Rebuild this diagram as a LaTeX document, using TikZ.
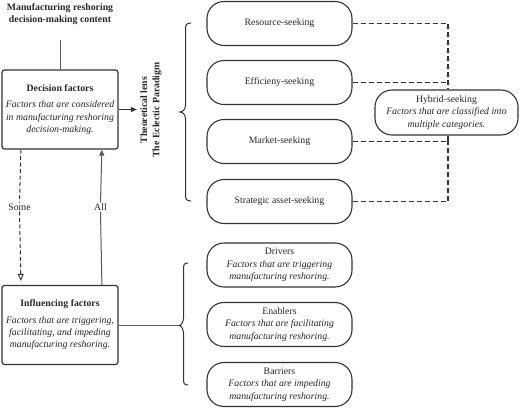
\documentclass[tikz,border=0pt]{standalone}
\usepackage{fontspec}
\setmainfont{Liberation Serif}
\usetikzlibrary{arrows.meta,calc}
\begin{document}
\begin{tikzpicture}[x=1pt,y=-1pt,
  every node/.style={font=\fontsize{9.8}{12.3}\selectfont, text=black!85},
  ln/.style={draw=black!80, line width=1pt},
  sqbox/.style={ln, rounded corners=2.5pt, minimum width=116pt, minimum height=79pt, align=center, inner sep=0pt, line width=1.2pt},
  pill/.style={ln, rounded corners=17pt, minimum width=145pt, minimum height=44pt, align=center, inner sep=0pt, line width=1.1pt},
  dsh/.style={ln, draw=black!80, dash pattern=on 5pt off 3pt, line width=1.5pt},
  lbl/.style={fill=white, inner sep=1pt}
]
\useasboundingbox (0,0) rectangle (520,408);

% title
\node[align=center, font=\fontsize{9.8}{12.3}\selectfont\bfseries] (title) at (60,14) {Manufacturing reshoring\\decision-making content};
\coordinate (tbot) at (60.5,40);

% left boxes
\node[sqbox] (dec) at (60,109.5) {\textbf{Decision factors}\\[4pt]\textit{Factors that are considered}\\\textit{in manufacturing reshoring}\\\textit{decision-making.}};
\node[sqbox] (inf) at (60,325) {\textbf{Influencing factors}\\[4pt]\textit{Factors that are triggering,}\\\textit{facilitating, and impeding}\\\textit{manufacturing reshoring.}};

\draw[ln, draw=black!65] (tbot) -- (tbot |- dec.north);

% theoretical lens
\node[rotate=90, align=center, font=\fontsize{9.8}{12.3}\selectfont\bfseries] (lens) at (151,110) {Theoretical lens\\The Eclectic Paradigm};
\draw[ln, -{Triangle[length=6pt,width=5pt]}] (dec.east |- 0,109.5) -- (lens.north |- 0,109.5);

% Some / All
\node[lbl] (some) at (19.5,207) {Some};
\node[lbl] (all) at (100.5,207) {All};
\draw[dsh, line width=1pt, dash pattern=on 4pt off 2.5pt] ($(dec.south west)+(19.5,0)$) -- (some.north);
\draw[dsh, line width=1pt, dash pattern=on 4pt off 2.5pt, -{Triangle[open,length=7pt,width=6pt,line width=0.9pt]}] (some.south) -- ($(inf.north west)+(19.5,-4)$);
\draw[ln, draw=black!65] ($(inf.north west)+(100.5,0)$) -- (all.south);
\draw[ln, draw=black!65, -{Triangle[length=6pt,width=5pt]}] (all.north) -- ($(dec.south west)+(100.5,0)$);

% upper brace
\coordinate (b1tip) at (180,112);
\draw[ln] (191,23) .. controls (186,23) and (185.5,25) .. (185.5,30) -- (185.5,105) .. controls (185.5,109) and (183,112) .. (b1tip) .. controls (183,112) and (185.5,115) .. (185.5,119) -- (185.5,194) .. controls (185.5,199) and (186,201) .. (191,201);

% motive pills
\node[pill] (res) at (279.5,23.5) {Resource-seeking};
\node[pill] (eff) at (279.5,82.5) {Efficieny-seeking};
\node[pill] (mkt) at (279.5,141.5) {Market-seeking};
\node[pill] (sta) at (279.5,201.5) {Strategic asset-seeking};
\node[pill, minimum width=143pt, minimum height=45pt] (hyb) at (446.5,112.5) {Hybrid-seeking\\\textit{Factors that are classified into}\\\textit{multiple categories.}};

\coordinate (hx) at (448,0);
\coordinate (effj) at (hx |- eff.east);
\draw[dsh] (res.east) -| (hx |- hyb.north);
\draw[dsh] (eff.east) -- (effj);
\draw[dsh] (mkt.east) -| (hx |- hyb.south);
\draw[dsh] (sta.east) -| (hx |- hyb.south);

% lower brace
\coordinate (b2tip) at (179,325.5);
\draw[ln] (188,263) .. controls (184,263) and (183.5,265) .. (183.5,269) -- (183.5,318) .. controls (183.5,322) and (181,325.5) .. (b2tip) .. controls (181,325.5) and (183.5,329) .. (183.5,333) -- (183.5,379) .. controls (183.5,383) and (184,385) .. (188,385);
\draw[ln, draw=black!65] (inf.east |- b2tip) -- (b2tip);

% factor pills
\node[pill] (drv) at (279.5,265) {Drivers\\\textit{Factors that are triggering}\\\textit{manufacturing reshoring.}};
\node[pill] (enb) at (279.5,324.5) {Enablers\\\textit{Factors that are facilitating}\\\textit{manufacturing reshoring.}};
\node[pill] (bar) at (279.5,384.5) {Barriers\\\textit{Factors that are impeding}\\\textit{manufacturing reshoring.}};
\end{tikzpicture}
\end{document}
